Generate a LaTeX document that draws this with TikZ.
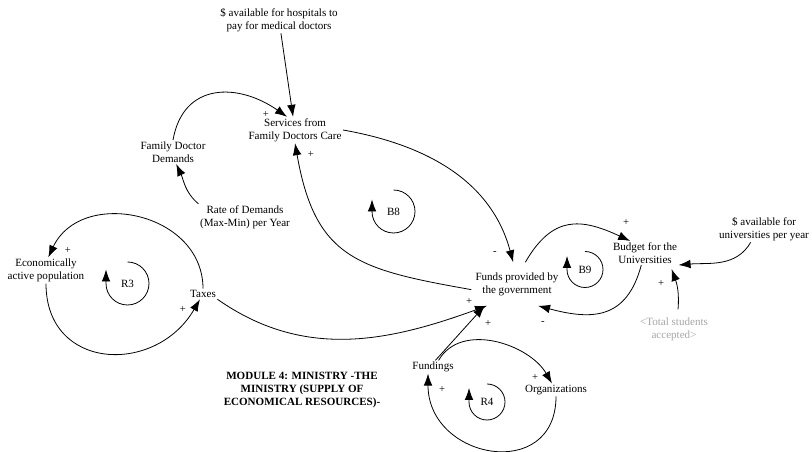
\documentclass[tikz,border=0pt]{standalone}
\usepackage{fontspec}
\setmainfont{Liberation Serif}
\usetikzlibrary{arrows.meta}

\begin{document}
\begin{tikzpicture}[x=0.75pt,y=0.75pt,
    var/.style={align=center,inner sep=1pt,font=\fontsize{8.3}{9.75}\selectfont},
    pol/.style={inner sep=0pt,font=\fontsize{8}{9}\selectfont},
    loopname/.style={inner sep=0pt,font=\fontsize{8.3}{9.75}\selectfont},
    lnk/.style={-{Latex[length=9pt,width=6.5pt]},line width=0.6pt}]
\useasboundingbox (0,0) rectangle (812,452);

% variables
\node[var] (hosp) at (279,432) {\$ available for hospitals to\\pay for medical doctors};
\node[var] (serv) at (295,322) {Services from\\Family Doctors Care};
\node[var] (fdd) at (173,300) {Family Doctor\\Demands};
\node[var] (rate) at (245,235) {Rate of Demands\\(Max-Min) per Year};
\node[var] (eap) at (46,181.5) {Economically\\active population};
\node[var] (taxes) at (203,158) {Taxes};
\node[var,inner xsep=3pt,inner ysep=7.5pt] (funds) at (517,168) {Funds provided by\\the government};
\node[var] (budget) at (645,199) {Budget for the\\Universities};
\node[var] (univ) at (764,223) {\$ available for\\universities per year};
\node[var,text=black!35] (total) at (674,122.5) {<Total students\\accepted>};
\node[var] (fundings) at (433,85) {Fundings};
\node[var] (org) at (556,62) {Organizations};
\node[var,font=\fontsize{8.3}{9.75}\selectfont\bfseries] (title) at (302,62) {MODULE 4: MINISTRY -THE\\MINISTRY (SUPPLY OF\\ECONOMICAL RESOURCES)-};

% loops
\node[loopname] (b8) at (393.5,240.5) {B8};
\node[loopname] (r3) at (127.5,168.5) {R3};
\node[loopname] (b9) at (585,182.5) {B9};
\node[loopname] (r4) at (487,50) {R4};
\draw[lnk] ([shift={(0,21.5)}]b8.center) arc[start angle=90,end angle=-180,radius=21.5] -- ++(0,12);
\draw[lnk] ([shift={(0,21.5)}]r3.center) arc[start angle=90,end angle=-180,radius=21.5] -- ++(0,14);
\draw[lnk] ([shift={(0,18)}]b9.center) arc[start angle=90,end angle=-180,radius=18] -- ++(0,13.5);
\draw[lnk] ([shift={(0,18)}]r4.center) arc[start angle=90,end angle=-180,radius=18] -- ++(0,14);

% links
\draw[lnk] (hosp) -- (serv);
\draw[lnk] (fdd.north) to[out=80,in=145,looseness=1.3] ([shift={(-8,0)}]serv.north);
\draw[lnk] (rate.north west) to[out=140,in=-65] (fdd.-75);
\draw[lnk] (serv.east) to[out=-10,in=105] (funds.100);
\draw[lnk] (funds.187) to[out=170,in=-80,looseness=1.3] (serv.south);
\draw[lnk] (taxes.south east) to[out=-35,in=200] (funds.216);
\draw[lnk] (fundings.70) -- (funds.214);
\draw[lnk] (fundings.50) to[out=60,in=120] ([shift={(-4,0)}]org.north);
\draw[lnk] (org.south) to[out=-90,in=-90,looseness=1.7] ([shift={(-5,0)}]fundings.south);
\draw[lnk] (eap.south) to[out=-90,in=-120,looseness=1.45] (taxes.-120);
\draw[lnk] (taxes.north) to[out=90,in=65,looseness=1.25] (eap.80);
\draw[lnk] (funds.69) to[out=60,in=155,looseness=1.3] (budget.141);
\draw[lnk] (budget.-107) to[out=-105,in=-15,looseness=1.3] (funds.-46);
\draw[lnk] (univ.-135) to[out=-120,in=5] (budget.south east);
\draw[lnk] ([shift={(4,7)}]total.north) to[out=85,in=-70] ([shift={(-7,-4)}]budget.south east);

% polarities
\foreach \px/\py/\s [count=\i] in {266/338/+,311/298/+,68/202/+,183/143/+,495/199/-,469/151/+,
    488/129/+,543/129/-,626/230/+,661/169/+,535/75/+,442/63/+}
  \node[pol] (pol\i) at (\px,\py) {\s};
\end{tikzpicture}
\end{document}
